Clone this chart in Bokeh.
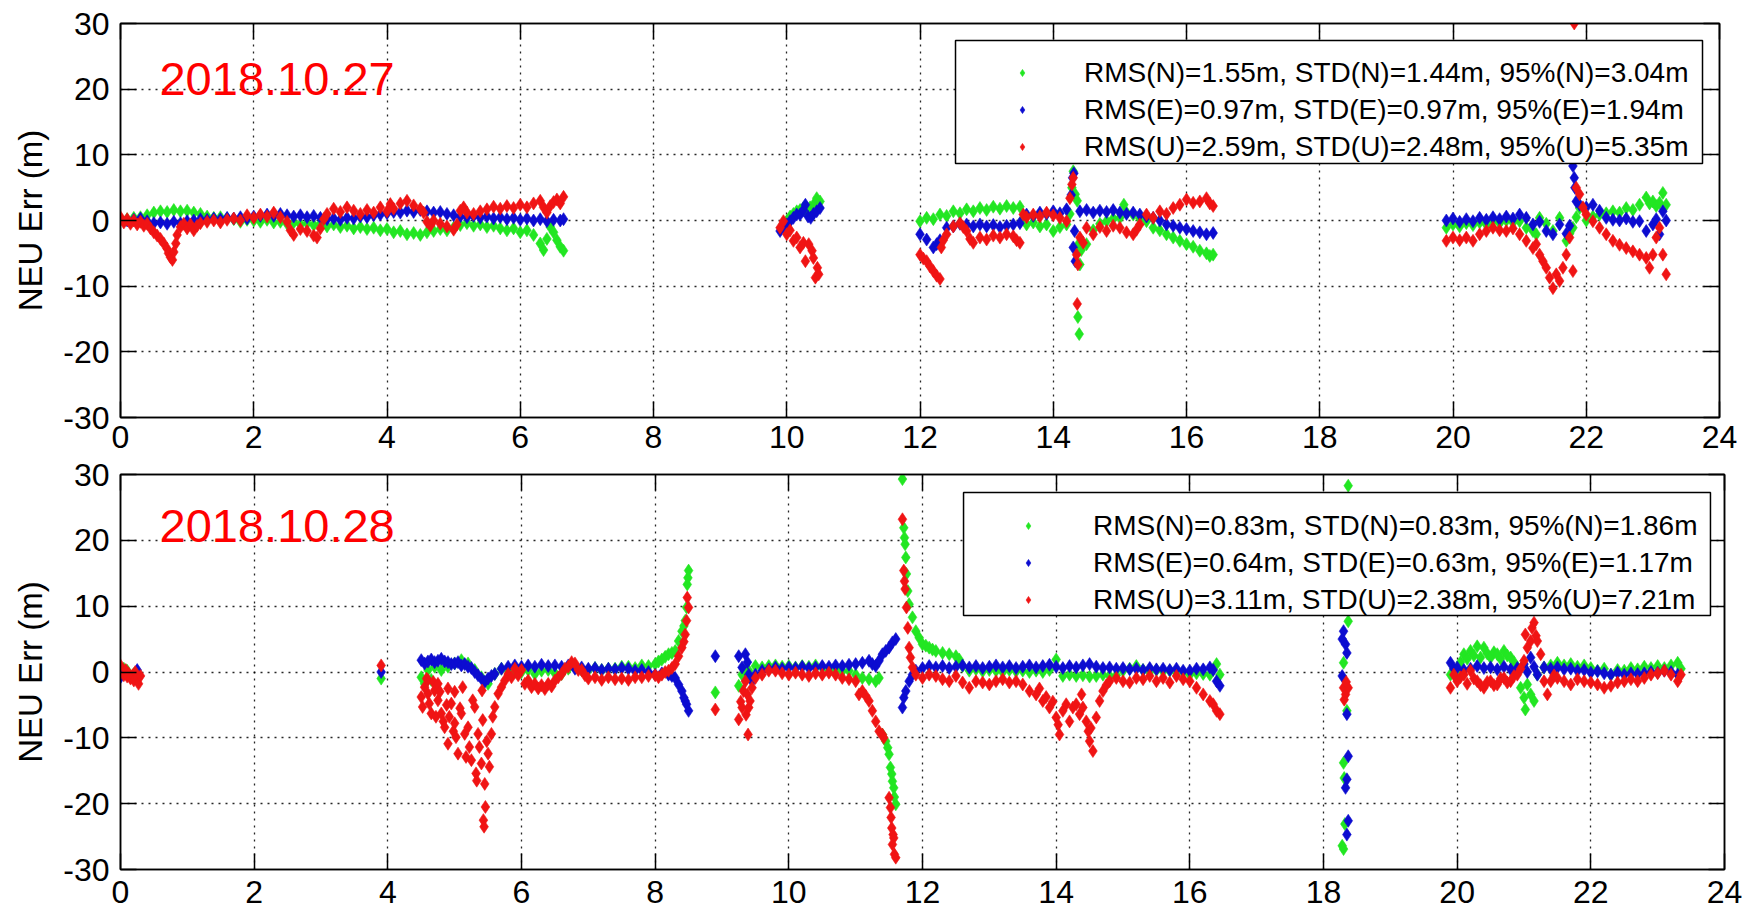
from bokeh.plotting import figure
from bokeh.layouts import column
from bokeh.models import (ColumnDataSource, Legend, LegendItem, Label,
                          BoxAnnotation, LinearAxis, FixedTicker)
from bokeh.embed import file_html
from bokeh.resources import INLINE

# ---------------- data ----------------
x_ticks = [0, 2, 4, 6, 8, 10, 12, 14, 16, 18, 20, 22, 24]
y_ticks = [-30, -20, -10, 0, 10, 20, 30]
y_tick_labels = ["-30", "-20", "-10", "0", "10", "20", "30"]

date_27 = "2018.10.27"
date_28 = "2018.10.28"

legend_27 = ["RMS(N)=1.55m, STD(N)=1.44m, 95%(N)=3.04m",
             "RMS(E)=0.97m, STD(E)=0.97m, 95%(E)=1.94m",
             "RMS(U)=2.59m, STD(U)=2.48m, 95%(U)=5.35m"]
legend_28 = ["RMS(N)=0.83m, STD(N)=0.83m, 95%(N)=1.86m",
             "RMS(E)=0.64m, STD(E)=0.63m, 95%(E)=1.17m",
             "RMS(U)=3.11m, STD(U)=2.38m, 95%(U)=7.21m"]

# 2018.10.27  (hour, metres)
n_27 = [(0.0,0.3),(0.1,0.2),(0.2,0.4),(0.3,0.5),(0.4,0.8),(0.5,1.2),(0.6,1.4),(0.7,1.3),(0.8,1.6),(0.9,1.4),
        (1.0,1.5),(1.1,1.2),(1.2,1.0),(1.3,0.6),(1.4,0.4),(1.5,0.5),(1.6,0.3),(1.7,0.2),(1.8,-0.2),(1.9,0.1),
        (2.0,0.0),(2.1,-0.2),(2.2,0.1),(2.3,-0.3),(2.4,-0.2),(2.5,-0.5),(2.6,-0.3),(2.7,-0.6),(2.8,-0.4),(2.9,-0.7),
        (3.0,-0.5),(3.1,-0.9),(3.2,-0.6),(3.3,-1.0),(3.4,-0.8),(3.5,-1.2),(3.6,-1.0),(3.7,-1.3),(3.8,-1.1),(3.9,-1.5),
        (4.0,-1.3),(4.1,-1.8),(4.2,-1.6),(4.3,-2.1),(4.4,-1.9),(4.5,-2.2),(4.6,-1.8),(4.7,-1.6),(4.8,-1.3),(4.9,-1.5),
        (5.0,-1.1),(5.1,-0.7),(5.2,-0.4),(5.3,-0.8),(5.4,-0.6),(5.5,-1.0),(5.6,-0.8),(5.7,-1.2),(5.8,-1.5),(5.9,-1.2),
        (6.0,-1.8),(6.1,-1.5),(6.2,-2.2),(6.3,-3.5),(6.35,-4.5),(6.4,-2.8),(6.45,-1.0),(6.5,-1.8),(6.55,-3.0),(6.6,-4.0),(6.65,-4.6),
        (9.95,-0.5),(10.0,-0.1),(10.05,0.6),(10.1,1.0),(10.15,1.4),(10.2,1.6),(10.25,1.9),(10.3,1.2),(10.35,2.0),(10.4,2.4),(10.45,3.4),(10.5,2.9),
        (12.0,-0.1),(12.1,0.4),(12.2,0.2),(12.3,0.9),(12.4,0.7),(12.5,1.4),(12.6,1.1),(12.7,1.7),(12.8,1.4),(12.9,1.9),
        (13.0,1.6),(13.1,2.1),(13.2,1.8),(13.3,2.2),(13.4,1.9),(13.5,2.1),(13.55,0.3),(13.6,-0.6),(13.7,-0.3),(13.8,-0.9),(13.9,-0.6),
        (14.0,-1.6),(14.1,-1.0),(14.2,-0.6),(14.25,1.0),(14.28,5.0),(14.3,7.5),(14.33,4.0),(14.36,3.0),(14.38,-3.6),(14.4,-6.7),
        (14.37,-14.7),(14.39,-17.3),(14.42,-4.5),(14.5,-3.6),(14.6,-1.5),(14.7,-0.5),(14.8,-0.1),(14.9,0.3),
        (15.0,0.4),(15.06,2.4),(15.1,1.2),(15.2,0.9),(15.3,0.3),(15.4,-0.1),(15.5,-1.1),(15.6,-1.5),(15.7,-2.1),(15.8,-2.6),(15.9,-3.1),
        (16.0,-3.6),(16.1,-4.0),(16.2,-4.6),(16.3,-5.0),(16.35,-5.4),(16.4,-5.2),
        (19.9,-1.1),(20.0,-0.6),(20.1,-0.9),(20.2,-0.4),(20.3,-0.7),(20.4,-0.3),(20.5,-0.6),(20.6,-0.1),(20.7,-0.4),(20.8,0.0),(20.9,-0.3),
        (21.0,-0.1),(21.1,-1.1),(21.2,-1.6),(21.25,-2.1),(21.3,0.4),(21.4,-0.5),(21.5,-1.6),(21.6,0.4),(21.7,-3.1),(21.75,-2.0),(21.8,-1.1),
        (21.85,0.5),(21.9,1.9),(22.0,0.0),(22.1,0.6),(22.2,0.9),(22.3,1.1),(22.4,1.4),(22.5,1.2),(22.6,1.9),(22.7,1.6),(22.8,2.4),
        (22.9,3.5),(22.95,2.6),(23.0,2.9),(23.05,2.2),(23.1,2.7),(23.15,4.2),(23.2,2.4)]

e_27 = [(0.0,0.2),(0.1,0.0),(0.2,0.1),(0.3,0.3),(0.4,-0.1),(0.5,-0.4),(0.6,-0.3),(0.7,-0.5),(0.8,-0.2),(0.9,-0.4),
        (1.0,-0.1),(1.1,0.0),(1.2,0.2),(1.3,0.1),(1.4,0.3),(1.5,0.2),(1.6,0.4),(1.7,0.3),(1.8,0.5),(1.9,0.3),
        (2.0,0.6),(2.1,0.7),(2.2,0.9),(2.3,0.7),(2.4,1.0),(2.5,0.8),(2.6,0.6),(2.7,0.8),(2.8,0.5),(2.9,0.7),
        (3.0,0.4),(3.1,0.2),(3.2,0.3),(3.3,0.1),(3.4,0.4),(3.5,0.3),(3.6,0.6),(3.7,0.5),(3.8,0.8),(3.9,0.9),
        (4.0,1.1),(4.1,1.3),(4.2,1.2),(4.3,1.5),(4.4,1.3),(4.5,1.6),(4.6,1.4),(4.7,1.2),(4.8,1.3),(4.9,1.0),
        (5.0,0.8),(5.1,0.6),(5.2,0.5),(5.3,0.7),(5.4,0.4),(5.5,0.6),(5.6,0.3),(5.7,0.5),(5.8,0.2),(5.9,0.4),
        (6.0,0.1),(6.1,0.3),(6.2,0.0),(6.3,0.2),(6.4,-0.1),(6.5,0.1),(6.6,0.0),(6.65,0.2),
        (9.9,-1.6),(9.95,-1.0),(10.0,-0.6),(10.05,-0.1),(10.1,0.4),(10.15,0.9),(10.2,0.9),(10.25,1.6),(10.28,2.4),(10.32,0.6),
        (10.36,0.4),(10.4,1.0),(10.45,1.4),(10.5,1.9),
        (12.0,-2.1),(12.1,-2.9),(12.2,-4.1),(12.25,-3.6),(12.3,-3.0),(12.4,-1.1),(12.5,-0.9),(12.6,-0.5),(12.7,-0.6),(12.8,-0.9),
        (12.9,-0.6),(13.0,-0.9),(13.1,-0.7),(13.2,-1.0),(13.3,-0.8),(13.4,-0.6),(13.5,-0.4),(13.6,0.9),(13.7,0.7),(13.8,1.2),
        (13.9,1.0),(14.0,1.4),(14.1,1.1),(14.2,1.7),(14.27,3.9),(14.29,6.5),(14.31,7.2),(14.32,-1.6),(14.3,-4.1),(14.33,-6.2),
        (14.4,1.4),(14.5,1.6),(14.6,1.2),(14.7,1.5),(14.8,1.3),(14.9,1.6),(15.0,1.2),(15.1,1.0),(15.2,1.2),(15.3,0.9),
        (15.4,0.6),(15.5,0.4),(15.6,0.0),(15.7,-0.6),(15.8,-0.8),(15.9,-1.1),(16.0,-1.3),(16.1,-1.6),(16.2,-1.8),(16.3,-2.1),(16.4,-1.9),
        (19.9,0.0),(20.0,0.3),(20.1,-0.2),(20.2,0.2),(20.3,-0.1),(20.4,0.4),(20.5,0.1),(20.6,0.5),(20.7,0.2),(20.8,0.6),
        (20.9,0.3),(21.0,0.9),(21.1,0.4),(21.2,-0.6),(21.3,-0.2),(21.4,-1.6),(21.5,-2.1),(21.6,-0.6),(21.7,-2.0),(21.75,-0.8),
        (21.8,8.3),(21.82,6.5),(21.83,5.0),(21.85,2.9),(21.9,2.4),(22.0,2.0),(22.1,2.4),(22.2,1.5),(22.3,0.4),(22.4,0.1),
        (22.5,0.0),(22.6,0.3),(22.7,-0.2),(22.8,-0.1),(22.9,-1.6),(23.0,-0.6),(23.05,0.2),(23.1,-2.1),(23.15,1.4),(23.2,0.0)]

u_27 = [(0.0,0.5),(0.05,-0.3),(0.1,0.2),(0.15,-0.5),(0.2,0.0),(0.25,-0.6),(0.3,-0.2),(0.35,-0.8),(0.4,-0.5),(0.45,-1.2),
        (0.5,-1.8),(0.55,-2.3),(0.6,-2.8),(0.65,-3.5),(0.7,-4.3),(0.72,-5.0),(0.75,-5.6),(0.78,-6.0),(0.8,-4.8),(0.83,-3.5),
        (0.85,-2.2),(0.9,-1.0),(0.95,-0.5),(1.0,-1.2),(1.05,-0.6),(1.1,-1.5),(1.15,-0.8),(1.2,-0.4),(1.3,-0.2),(1.4,0.0),
        (1.5,-0.3),(1.6,0.1),(1.7,0.3),(1.8,0.0),(1.9,0.8),(2.0,0.4),(2.1,0.9),(2.2,0.6),(2.3,1.2),(2.4,0.5),
        (2.5,-0.2),(2.55,-1.5),(2.6,-2.2),(2.7,-1.3),(2.8,-1.6),(2.9,-2.3),(2.95,-2.6),(3.0,-1.2),(3.05,0.2),(3.1,1.0),
        (3.2,1.8),(3.3,1.3),(3.4,2.0),(3.5,1.5),(3.6,1.0),(3.7,1.6),(3.8,1.2),(3.9,2.0),(4.0,1.4),(4.05,2.5),
        (4.1,1.8),(4.2,2.6),(4.3,3.0),(4.4,2.3),(4.5,1.8),(4.55,1.2),(4.6,-0.2),(4.65,-0.8),(4.7,0.0),(4.8,-0.5),
        (4.9,-0.9),(5.0,-1.4),(5.05,-0.6),(5.1,1.5),(5.15,2.0),(5.2,1.2),(5.3,1.0),(5.4,1.4),(5.5,1.7),(5.6,2.1),
        (5.7,1.8),(5.8,2.2),(5.9,1.9),(6.0,2.4),(6.1,2.0),(6.2,2.6),(6.3,3.0),(6.35,2.0),(6.4,1.2),(6.45,2.2),
        (6.5,2.8),(6.55,3.2),(6.6,2.6),(6.65,3.6),
        (9.9,-1.1),(9.95,-0.1),(10.0,-2.1),(10.05,-1.5),(10.1,-3.1),(10.15,-2.6),(10.2,-4.1),(10.25,-3.4),(10.28,-6.2),(10.33,-3.6),
        (10.38,-4.6),(10.4,-5.7),(10.43,-8.7),(10.46,-7.2),(10.48,-8.2),
        (12.0,-5.2),(12.05,-5.8),(12.1,-6.2),(12.15,-7.0),(12.2,-7.7),(12.25,-8.4),(12.3,-8.9),(12.32,-4.1),(12.35,-3.0),(12.4,-2.1),
        (12.5,-0.9),(12.6,-0.4),(12.65,-1.0),(12.7,-1.6),(12.75,-2.8),(12.8,-3.4),(12.9,-2.6),(13.0,-2.9),(13.1,-2.3),(13.2,-2.6),
        (13.3,-2.1),(13.4,-2.4),(13.45,-3.0),(13.5,-3.4),(13.55,0.9),(13.6,0.5),(13.7,0.9),(13.8,0.6),(13.9,1.2),(14.0,0.8),
        (14.1,0.4),(14.2,-0.1),(14.25,3.4),(14.28,5.5),(14.3,6.5),(14.35,-5.2),(14.37,-6.7),(14.36,-12.7),(14.4,-2.6),(14.45,-3.4),
        (14.5,-1.1),(14.6,-2.1),(14.7,-1.0),(14.8,-1.6),(14.9,-0.8),(15.0,-1.1),(15.1,-1.8),(15.2,-2.1),(15.25,-1.4),(15.3,-0.6),
        (15.4,0.9),(15.5,0.4),(15.6,1.4),(15.7,1.0),(15.8,1.9),(15.9,2.4),(16.0,3.2),(16.1,2.7),(16.2,2.9),(16.3,3.4),
        (16.35,2.6),(16.4,2.2),
        (19.9,-3.1),(20.0,-2.6),(20.1,-3.0),(20.2,-2.6),(20.3,-3.1),(20.4,-2.1),(20.5,-1.6),(20.6,-1.1),(20.7,-1.5),(20.8,-1.6),
        (20.9,-1.2),(21.0,-2.1),(21.1,-3.1),(21.2,-4.2),(21.25,-3.6),(21.3,-5.2),(21.35,-6.2),(21.4,-7.2),(21.45,-8.7),(21.5,-10.3),
        (21.55,-8.2),(21.6,-9.2),(21.65,-7.2),(21.7,-5.2),(21.75,-2.6),(21.8,-7.7),(21.82,30.0),(21.85,5.0),(21.9,4.0),(21.95,2.0),
        (22.0,0.9),(22.1,-0.1),(22.2,-1.1),(22.3,-2.1),(22.4,-3.1),(22.5,-3.7),(22.6,-4.2),(22.7,-4.7),(22.8,-5.2),(22.9,-5.7),
        (22.95,-7.2),(23.0,-5.2),(23.05,-2.6),(23.1,-1.1),(23.15,-5.2),(23.2,-8.2)]

# 2018.10.28  (hour, metres)
n_28 = [(0.05,0.5),(0.1,0.2),(0.2,-0.3),(3.9,-1.0),
        (4.5,-0.8),(4.55,-1.8),(4.6,0.3),(4.65,-1.2),(4.7,0.8),(4.8,0.3),(4.9,0.8),(5.0,1.3),(5.1,1.8),(5.2,1.3),
        (5.3,0.3),(5.4,-0.8),(5.5,-1.8),(5.6,-0.3),(5.7,0.5),(5.8,0.2),(5.9,0.0),(6.0,0.0),(6.1,0.3),(6.2,-0.3),
        (6.3,0.2),(6.4,0.3),(6.5,-0.2),(6.6,-0.3),(6.7,0.5),(6.8,0.8),(6.9,0.3),(7.0,0.3),(7.1,0.6),(7.2,0.3),
        (7.3,0.5),(7.4,0.5),(7.5,0.8),(7.6,0.8),(7.7,0.6),(7.8,1.0),(7.9,0.9),(8.0,1.2),(8.05,1.6),(8.1,1.9),
        (8.15,2.3),(8.2,2.7),(8.25,2.9),(8.3,3.2),(8.35,4.7),(8.4,6.2),(8.43,7.0),(8.45,7.8),(8.47,9.8),(8.48,13.3),
        (8.49,14.3),(8.5,15.4),(8.9,-3.1),
        (9.25,-2.1),(9.3,-0.4),(9.35,0.2),(9.4,0.2),(9.5,0.9),(9.6,0.7),(9.7,0.9),(9.8,1.0),(9.9,0.8),(10.0,0.9),
        (10.1,0.7),(10.2,0.9),(10.3,0.8),(10.4,1.0),(10.5,0.7),(10.6,0.2),(10.7,0.4),(10.8,0.1),(10.9,0.2),(11.0,-0.4),
        (11.1,-0.9),(11.2,-1.1),(11.3,-1.4),(11.35,-0.9),(11.4,-9.5),(11.45,-10.5),(11.48,-11.5),(11.5,-12.5),(11.52,-14.5),(11.54,-15.5),
        (11.55,-16.6),(11.57,-17.6),(11.58,-19.0),(11.6,-20.1),(11.7,29.3),(11.72,21.9),(11.73,20.4),(11.74,19.4),(11.75,17.4),(11.76,14.9),
        (11.78,12.3),(11.8,10.3),(11.85,8.3),(11.9,6.2),(11.95,5.2),(12.0,4.2),(12.05,4.0),(12.1,3.7),(12.15,3.4),(12.2,3.2),
        (12.3,2.9),(12.4,2.7),(12.5,2.4),(12.55,1.9),(12.6,0.9),(12.7,0.2),(12.8,0.4),(12.9,0.1),(13.0,0.3),(13.1,0.2),
        (13.2,0.0),(13.3,0.3),(13.4,0.1),(13.5,0.2),(13.6,0.0),(13.7,0.2),(13.8,0.0),(13.9,0.3),(14.0,1.9),(14.1,-0.6),
        (14.2,-0.4),(14.3,-0.6),(14.4,-0.5),(14.5,-0.7),(14.6,-0.6),(14.7,-0.4),(14.8,-0.6),(14.9,-0.5),(15.0,0.2),(15.1,0.5),
        (15.2,0.9),(15.3,0.3),(15.4,0.0),(15.5,0.3),(15.6,0.1),(15.7,0.2),(15.8,-0.1),(15.9,0.0),(16.0,-0.4),(16.1,-0.2),
        (16.2,-0.3),(16.3,-0.4),(16.4,1.2),(16.45,-0.4),
        (18.37,28.3),(18.37,7.7),(18.3,1.4),(18.35,-5.9),(18.3,-13.8),(18.31,-16.1),(18.32,-23.1),(18.28,-26.4),(18.3,-26.9),
        (19.9,-0.4),(20.0,0.2),(20.05,1.5),(20.1,2.7),(20.15,2.0),(20.2,3.2),(20.25,2.5),(20.3,3.9),(20.35,2.2),(20.4,3.7),
        (20.45,2.8),(20.5,2.2),(20.55,3.0),(20.6,2.7),(20.65,2.0),(20.7,3.2),(20.75,2.5),(20.8,2.2),(20.85,1.5),(20.9,0.7),
        (20.95,-2.4),(21.0,-3.9),(21.02,-5.7),(21.05,-1.9),(21.1,-3.4),(21.15,-4.4),(21.2,-0.4),(21.3,0.7),(21.4,1.0),(21.5,1.4),
        (21.6,1.0),(21.7,1.2),(21.8,0.8),(21.9,1.0),(22.0,0.6),(22.1,0.2),(22.2,0.5),(22.3,-0.4),(22.4,0.3),(22.5,0.2),
        (22.6,0.6),(22.7,0.4),(22.8,0.8),(22.9,0.6),(23.0,0.9),(23.1,0.6),(23.2,1.0),(23.3,1.4),(23.35,0.5)]

e_28 = [(0.0,-0.8),(0.05,0.0),(0.2,-0.5),(0.25,0.3),(3.9,0.0),
        (4.5,1.8),(4.55,1.3),(4.6,1.6),(4.65,1.9),(4.7,1.5),(4.75,1.7),(4.8,2.0),(4.85,1.6),(4.9,1.5),(4.95,1.2),
        (5.0,1.3),(5.05,1.5),(5.1,1.0),(5.15,1.2),(5.2,0.8),(5.25,0.6),(5.3,0.0),(5.35,-0.5),(5.4,-1.0),(5.45,-1.5),
        (5.5,-1.0),(5.55,-0.6),(5.6,-0.3),(5.7,0.5),(5.8,0.8),(5.9,1.0),(6.0,0.8),(6.1,1.0),(6.2,0.8),(6.3,1.1),
        (6.4,0.9),(6.5,1.0),(6.6,0.8),(6.7,1.0),(6.8,0.5),(6.9,0.7),(7.0,0.5),(7.1,0.6),(7.2,0.3),(7.3,0.5),
        (7.4,0.4),(7.5,0.6),(7.6,0.5),(7.7,0.2),(7.8,0.3),(7.9,0.0),(8.0,-0.4),(8.1,-0.2),(8.2,-0.4),(8.25,-0.6),
        (8.3,-0.9),(8.35,-1.9),(8.4,-2.9),(8.43,-3.9),(8.45,-4.4),(8.47,-4.9),(8.5,-5.9),(8.9,2.4),
        (9.25,2.4),(9.3,0.7),(9.35,2.7),(9.38,1.5),(9.4,-0.4),(9.45,-1.4),(9.5,-0.4),(9.6,0.2),(9.7,0.4),(9.8,0.7),
        (9.9,0.5),(10.0,0.7),(10.1,0.6),(10.2,0.8),(10.3,0.6),(10.4,0.7),(10.5,0.9),(10.6,0.8),(10.7,1.0),(10.8,0.9),
        (10.9,1.1),(11.0,1.2),(11.1,1.4),(11.2,1.7),(11.25,1.2),(11.3,0.9),(11.35,1.7),(11.4,2.7),(11.45,3.2),(11.5,3.7),
        (11.55,4.5),(11.6,5.0),(11.7,-5.4),(11.72,-3.9),(11.75,-2.9),(11.8,-1.4),(11.85,-0.4),(11.9,0.2),(12.0,0.6),(12.1,0.9),
        (12.2,0.7),(12.3,0.9),(12.4,0.6),(12.5,0.8),(12.6,1.0),(12.7,0.7),(12.8,0.9),(12.9,0.6),(13.0,0.8),(13.1,1.0),
        (13.2,0.7),(13.3,0.9),(13.4,0.6),(13.5,0.8),(13.6,1.0),(13.7,0.7),(13.8,0.9),(13.9,1.1),(14.0,0.8),(14.1,0.6),
        (14.2,0.9),(14.3,0.7),(14.4,1.0),(14.5,1.2),(14.6,0.8),(14.7,0.6),(14.8,0.7),(14.9,0.5),(15.0,0.6),(15.1,0.4),
        (15.2,0.5),(15.3,0.3),(15.4,0.6),(15.5,0.4),(15.6,0.5),(15.7,0.3),(15.8,0.5),(15.9,0.2),(16.0,0.2),(16.1,0.5),
        (16.2,0.4),(16.3,0.7),(16.35,0.3),(16.4,-1.4),(16.45,-2.1),
        (18.3,6.2),(18.28,5.0),(18.33,4.2),(18.35,2.9),(18.28,-0.6),(18.35,-6.4),(18.37,-12.8),(18.35,-16.3),(18.33,-17.6),(18.37,-22.6),(18.35,-24.7),
        (19.9,1.4),(19.95,0.5),(20.0,0.7),(20.1,0.3),(20.2,0.5),(20.3,0.9),(20.4,0.6),(20.5,0.7),(20.6,0.4),(20.7,0.8),
        (20.8,0.4),(20.9,0.6),(21.0,1.2),(21.05,0.0),(21.1,2.2),(21.15,0.8),(21.2,-0.4),(21.3,0.7),(21.4,0.5),(21.5,0.7),
        (21.6,0.4),(21.7,0.5),(21.8,0.2),(21.9,0.3),(22.0,-0.1),(22.1,0.1),(22.2,-0.2),(22.3,-0.4),(22.4,-0.1),(22.5,-0.4),
        (22.6,-0.2),(22.7,-0.3),(22.8,-0.2),(22.9,0.0),(23.0,-0.1),(23.1,0.2),(23.2,0.0),(23.3,-0.4)]

u_28 = [(0.0,1.0),(0.05,-0.5),(0.08,0.3),(0.1,-0.7),(0.12,-0.2),(0.15,-1.0),(0.18,-0.5),(0.2,-1.3),(0.22,0.0),(0.25,-0.8),
        (0.27,-1.8),(0.3,-0.6),(3.9,1.0),
        (4.5,-3.8),(4.52,-5.3),(4.55,-2.3),(4.58,-1.0),(4.6,-3.3),(4.6,-1.2),(4.62,-4.8),(4.65,-6.3),(4.68,-1.5),(4.7,-2.8),
        (4.72,-6.8),(4.75,-4.3),(4.75,-1.8),(4.78,-3.0),(4.8,-6.3),(4.83,-7.5),(4.85,-8.4),(4.88,-5.0),(4.9,-10.9),(4.9,-2.5),
        (4.92,-6.8),(4.95,-4.8),(4.98,-9.0),(5.0,-7.8),(5.0,-3.0),(5.02,-9.9),(5.05,-12.4),(5.08,-5.5),(5.1,-6.3),(5.12,-2.3),
        (5.15,-9.4),(5.17,-12.9),(5.2,-8.4),(5.22,-11.4),(5.25,-13.4),(5.27,-4.3),(5.3,-5.3),(5.32,-15.4),(5.33,-16.5),(5.35,-9.4),
        (5.37,-11.4),(5.4,-13.9),(5.41,-2.8),(5.42,-7.3),(5.43,-22.5),(5.44,-23.5),(5.45,-17.0),(5.46,-20.5),(5.48,-10.5),(5.5,-12.4),
        (5.52,-14.4),(5.55,-9.4),(5.57,-6.8),(5.6,-5.3),(5.65,-3.3),(5.7,-2.3),(5.75,-1.3),(5.8,-0.3),(5.85,-0.8),(5.9,0.5),
        (5.95,-0.5),(6.0,0.3),(6.05,-1.8),(6.1,-1.3),(6.15,-2.3),(6.2,-1.8),(6.25,-2.5),(6.3,-2.0),(6.35,-2.6),(6.4,-1.8),
        (6.45,-2.2),(6.5,-1.3),(6.55,-0.8),(6.6,-0.3),(6.65,0.5),(6.7,0.8),(6.75,1.5),(6.8,1.3),(6.85,0.3),(6.9,0.3),
        (6.95,-0.5),(7.0,-1.0),(7.1,-0.8),(7.2,-1.2),(7.3,-0.8),(7.4,-1.1),(7.5,-1.0),(7.6,-1.2),(7.7,-0.8),(7.8,-0.8),
        (7.9,-0.6),(8.0,-0.5),(8.05,-0.8),(8.1,-0.4),(8.15,0.0),(8.2,0.2),(8.25,0.6),(8.3,1.2),(8.35,2.4),(8.4,3.7),
        (8.43,4.6),(8.45,5.7),(8.47,7.8),(8.48,11.3),(8.5,9.8),(8.9,-5.7),
        (9.25,-7.2),(9.28,-4.5),(9.3,-5.4),(9.32,-2.9),(9.35,-1.4),(9.36,-6.5),(9.38,-3.4),(9.39,-9.5),(9.4,-5.4),(9.42,-4.4),
        (9.45,-2.4),(9.5,-0.9),(9.6,-0.4),(9.7,0.2),(9.8,0.2),(9.9,-0.2),(10.0,-0.4),(10.1,-0.1),(10.2,-0.4),(10.3,-0.6),
        (10.4,-0.2),(10.5,-0.4),(10.6,-0.1),(10.7,-0.4),(10.8,-0.9),(10.9,-1.1),(11.0,-1.4),(11.05,-3.4),(11.1,-2.9),(11.15,-3.6),
        (11.2,-4.4),(11.25,-5.9),(11.3,-7.5),(11.35,-9.0),(11.4,-9.5),(11.42,-10.0),(11.5,-19.1),(11.52,-20.6),(11.53,-22.1),(11.54,-23.7),
        (11.56,-24.7),(11.57,-25.2),(11.55,-26.2),(11.58,-27.7),(11.6,-28.2),(11.7,23.2),(11.72,15.4),(11.73,13.8),(11.74,12.6),(11.76,9.8),
        (11.78,6.7),(11.8,3.7),(11.82,2.2),(11.85,0.7),(11.9,-0.4),(12.0,-0.9),(12.1,-0.4),(12.2,-0.6),(12.3,-1.1),(12.4,-1.4),
        (12.5,-0.6),(12.6,-1.6),(12.7,-2.4),(12.8,-1.4),(12.9,-1.6),(13.0,-1.9),(13.1,-1.4),(13.2,-1.1),(13.3,-1.6),(13.4,-1.4),
        (13.5,-1.9),(13.6,-2.9),(13.7,-3.4),(13.75,-2.5),(13.8,-4.4),(13.85,-3.8),(13.9,-5.4),(13.95,-4.5),(14.0,-6.9),(14.03,-8.0),
        (14.05,-9.5),(14.1,-5.9),(14.15,-4.9),(14.2,-7.5),(14.25,-5.4),(14.3,-4.9),(14.35,-6.4),(14.38,-3.4),(14.4,-5.4),(14.45,-7.5),
        (14.48,-9.0),(14.5,-10.5),(14.55,-12.0),(14.52,-8.5),(14.6,-6.9),(14.65,-4.4),(14.7,-2.9),(14.75,-2.0),(14.8,-1.4),(14.9,-0.9),
        (15.0,-1.4),(15.1,-1.6),(15.2,-0.9),(15.3,-1.1),(15.4,-0.6),(15.5,-1.4),(15.6,-0.9),(15.7,-1.6),(15.8,-0.6),(15.9,-1.1),
        (16.0,-1.4),(16.1,-2.4),(16.2,-3.4),(16.3,-4.4),(16.35,-4.9),(16.4,-5.9),(16.45,-6.4),
        (18.3,-2.4),(18.33,-3.4),(18.37,-2.4),(18.31,-4.2),(18.34,-1.5),
        (19.9,-2.4),(19.95,-0.4),(20.0,-1.4),(20.05,-0.8),(20.1,-0.4),(20.15,-1.8),(20.2,0.2),(20.25,-1.0),(20.3,-1.4),(20.35,-2.0),
        (20.4,-2.4),(20.45,-1.5),(20.5,-1.4),(20.55,-2.0),(20.6,-1.9),(20.65,-1.0),(20.7,-0.9),(20.75,-1.6),(20.8,-1.4),(20.85,-0.6),
        (20.9,-0.4),(20.95,0.5),(21.0,1.7),(21.02,5.7),(21.05,3.7),(21.1,4.7),(21.12,6.7),(21.15,7.5),(21.18,5.5),(21.2,4.7),
        (21.25,2.7),(21.3,-1.4),(21.35,-3.4),(21.4,-1.4),(21.45,-0.5),(21.5,-0.9),(21.6,-1.4),(21.7,-1.9),(21.8,-1.1),(21.9,-1.4),
        (22.0,-1.6),(22.1,-1.9),(22.2,-2.4),(22.3,-2.1),(22.4,-1.6),(22.5,-1.4),(22.6,-1.1),(22.7,-1.4),(22.8,-0.9),(22.9,-0.4),
        (23.0,-0.2),(23.1,0.2),(23.2,-0.4),(23.3,-1.4),(23.35,-0.4)]

# ---------------- styling ----------------
FONT = "Liberation Sans"
COLORS = ["#22e622", "#0c0cd0", "#f01414"]


def style_axis(ax, ticks, standoff, show_labels=True, overrides=None):
    ax.ticker = FixedTicker(ticks=ticks)
    ax.major_tick_in = 16
    ax.major_tick_out = 0
    ax.minor_tick_line_color = None
    ax.major_tick_line_color = "black"
    ax.major_tick_line_width = 1.5
    ax.axis_line_color = "black"
    ax.axis_line_width = 1.5
    ax.major_label_standoff = standoff
    if show_labels:
        ax.major_label_text_font = FONT
        ax.major_label_text_font_size = "32px"
        ax.major_label_text_color = "black"
        ax.major_label_text_line_height = 1.0
        if overrides:
            ax.major_label_overrides = overrides
    else:
        ax.major_label_text_font_size = "1px"
        ax.major_label_text_color = None


def make_panel(series, labels, date, lay):
    p = figure(x_range=(0, 24), y_range=(-30, 30),
               frame_width=lay["fw"], frame_height=lay["fh"],
               min_border_left=lay["bl"], min_border_right=lay["br"],
               min_border_top=lay["bt"], min_border_bottom=lay["bb"],
               output_backend="svg", toolbar_location=None)
    p.background_fill_color = "white"
    p.border_fill_color = "white"
    p.outline_line_color = "black"
    p.outline_line_width = 1.5

    style_axis(p.xaxis[0], x_ticks, lay["xstand"])
    style_axis(p.yaxis[0], y_ticks, 11,
               overrides={t: s for t, s in zip(y_ticks, y_tick_labels)})
    p.yaxis[0].axis_label = "NEU Err (m)"
    p.yaxis[0].axis_label_text_font = FONT
    p.yaxis[0].axis_label_text_font_size = "33px"
    p.yaxis[0].axis_label_text_font_style = "normal"
    p.yaxis[0].axis_label_text_color = "black"
    p.yaxis[0].axis_label_standoff = lay["ylstand"]

    top_ax = LinearAxis()
    style_axis(top_ax, x_ticks, 0, show_labels=False)
    p.add_layout(top_ax, "above")
    right_ax = LinearAxis()
    style_axis(right_ax, y_ticks, 0, show_labels=False)
    p.add_layout(right_ax, "right")

    p.xgrid.ticker = FixedTicker(ticks=x_ticks)
    p.ygrid.ticker = FixedTicker(ticks=y_ticks)
    p.grid.grid_line_color = "black"
    p.grid.grid_line_alpha = 0.85
    p.grid.grid_line_width = 1.3
    p.grid.grid_line_dash = "2 5"

    rs = []
    for pts, col in zip(series, COLORS):
        src = ColumnDataSource(dict(t=[a for a, b in pts], v=[b for a, b in pts]))
        r = p.scatter(x="t", y="v", source=src, marker="diamond", size=13,
                      fill_color=col, line_color=col, line_width=0.6)
        rs.append(r)

    p.add_layout(Label(x=lay["dx"], y=lay["dy"], text=date, text_font=FONT,
                       text_font_size="47px", text_color="#ff0000",
                       text_baseline="alphabetic"))

    box = BoxAnnotation(left=lay["box"][0], right=lay["box"][1],
                        bottom=lay["box"][2], top=lay["box"][3],
                        fill_color="white", fill_alpha=1.0,
                        line_color="black", line_width=1.5, line_alpha=1.0)
    p.add_layout(box)

    items = [LegendItem(label=lab, renderers=[r]) for lab, r in zip(labels, rs)]
    leg = Legend(items=items, location=lay["leg"], orientation="vertical",
                 glyph_width=18, glyph_height=37, label_height=37,
                 label_standoff=lay["lstand"], padding=8, spacing=0, margin=0,
                 border_line_color=None, background_fill_alpha=0.0,
                 label_text_font=FONT, label_text_font_size="28px",
                 label_text_color="black")
    p.add_layout(leg)
    return p


lay27 = dict(fw=1599, fh=394, bl=120, br=20, bt=23, bb=40, xstand=8, ylstand=11,
             dx=0.585, dy=21.5, box=(12.533, 23.745, 8.68, 27.41),
             leg=(893, 252), lstand=53)
lay28 = dict(fw=1604, fh=395, bl=120, br=20, bt=17, bb=43, xstand=11, ylstand=11,
             dx=0.584, dy=22.2, box=(12.614, 23.79, 8.58, 27.27),
             leg=(899, 251), lstand=56)

p1 = make_panel([n_27, e_27, u_27], legend_27, date_27, lay27)
p2 = make_panel([n_28, e_28, u_28], legend_28, date_28, lay28)

layout = column(p1, p2, spacing=0)
open("out.html", "w").write(file_html(layout, INLINE))
